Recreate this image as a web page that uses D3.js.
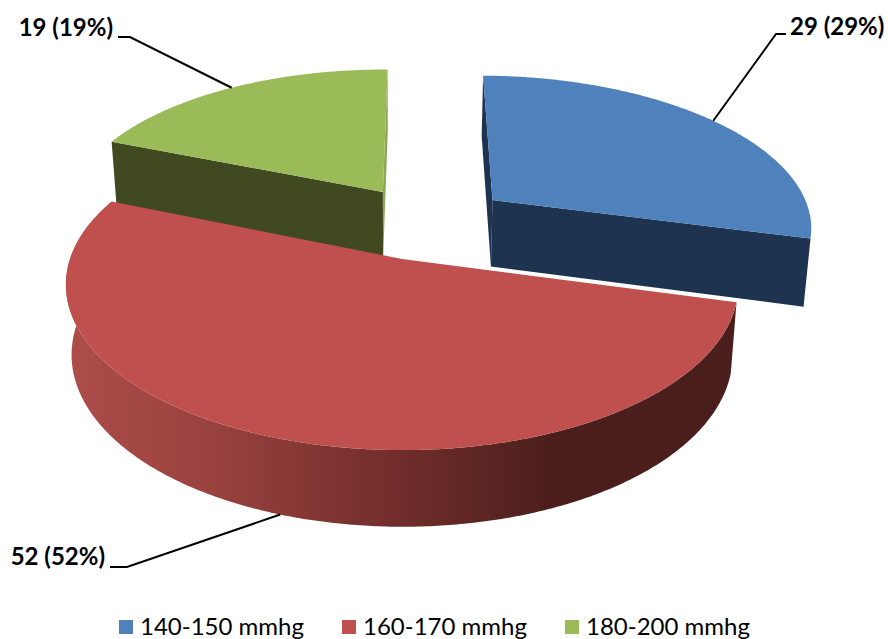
<!DOCTYPE html>
<html>
<head>
<meta charset="utf-8">
<style>
  html, body { margin: 0; padding: 0; background: #fff; }
  svg { display: block; }
  text { font-family: Lato, "Open Sans", sans-serif; fill: #000; }
</style>
<script src="https://cdn.jsdelivr.net/npm/d3@7/dist/d3.min.js"></script>
</head>
<body>
<svg id="chart" width="888" height="639"></svg>
<script>
// Systolic pressure groups and patient counts
const categories = ["140-150 mmhg", "160-170 mmhg", "180-200 mmhg"];
const counts = [29, 52, 19];
const percents = [29, 52, 19];
const faceColors = ["#4f81bd", "#c0504d", "#9bbb59"];
const startWallColors = ["#1d334f", "#7a3230", "#40491f"];
const endWallColors = ["#1d334f", "#7a3230", "#8ea655"];

const svg = d3.select("#chart");

// Ground plane of the pie is a unit disc; u points right, v points away from the viewer.
const camera = { ox: 398, oy: 259, ax: 332, by: 161, k: 0.158, depth: 69, depthK: 0.1, vanishX: 400, squeeze: 0.983 };
const explodeU = 0.26, explodeV = 0.25;
const discCentre = { u: 0.095, v: 0.2375 };

const pieLayout = d3.pie().sort(null).startAngle(0.6 * Math.PI / 180).endAngle(360.6 * Math.PI / 180);
const slices = pieLayout(counts).map((s, i) => {
  const mid = (s.startAngle + s.endAngle) / 2;
  return {
    ...s, index: i, mid,
    cu: discCentre.u + explodeU * Math.sin(mid),
    cv: discCentre.v + explodeV * Math.cos(mid)
  };
});

// Perspective projection of a disc point onto the top face of the pie
function projectTop(u, v) {
  const w = 1 + camera.k * v;
  return [camera.ox + camera.ax * u / w, camera.oy - camera.by * v / w];
}
// Same disc point on the underside of the extrusion
function projectBottom(u, v) {
  const p = projectTop(u, v);
  return [camera.vanishX + (p[0] - camera.vanishX) * camera.squeeze, p[1] + camera.depth / (1 + camera.depthK * v)];
}
const rimPoint = (s, a) => [s.cu + Math.sin(a), s.cv + Math.cos(a)];
const rimAngles = (s, step = 0.01) => {
  const n = Math.ceil((s.endAngle - s.startAngle) / step);
  return d3.range(n + 1).map(i => s.startAngle + (s.endAngle - s.startAngle) * i / n);
};

const polygon = d3.line().curve(d3.curveLinear);
const closed = pts => polygon(pts) + "Z";

// Horizontal shading along the curved outer wall of the largest slice
const defs = svg.append("defs");
const grad = defs.append("linearGradient").attr("id", "rimShade")
  .attr("gradientUnits", "userSpaceOnUse").attr("x1", 65).attr("x2", 738).attr("y1", 0).attr("y2", 0);
[[0, "#ad4d4a"], [0.2, "#9b4340"], [0.35, "#873835"], [0.5, "#702d2b"], [0.62, "#5c2522"], [0.72, "#4c1f1c"], [1, "#4a1e1c"]]
  .forEach(([o, c]) => grad.append("stop").attr("offset", o).attr("stop-color", c));

const pieGroup = svg.append("g").attr("class", "pie");

function drawSlice(s) {
  const g = pieGroup.append("g").attr("class", "slice");
  const apexT = projectTop(s.cu, s.cv), apexB = projectBottom(s.cu, s.cv);
  const angles = rimAngles(s);

  if (s.index === 1) {
    // Front slice: only the curved outer wall is visible
    const topEdge = angles.map(a => projectTop(...rimPoint(s, a)));
    const bottomEdge = angles.map(a => projectBottom(...rimPoint(s, a))).reverse();
    g.append("path").attr("d", closed(topEdge.concat(bottomEdge))).attr("fill", "url(#rimShade)");
  } else {
    // Back slices: the radial walls exposed by the explosion
    const wall = (r, fill) => g.append("path")
      .attr("d", closed([apexT, projectTop(...r), projectBottom(...r), apexB]))
      .attr("fill", fill);
    wall(rimPoint(s, s.endAngle), endWallColors[s.index]);
    wall(rimPoint(s, s.startAngle), startWallColors[s.index]);
  }

  const face = [apexT].concat(angles.map(a => projectTop(...rimPoint(s, a))));
  g.append("path").attr("d", closed(face)).attr("fill", faceColors[s.index]);
}

// Back slices first, front slice last
[2, 0, 1].forEach(i => drawSlice(slices[i]));

// Leader lines and value labels
const labelLayout = [
  { i: 0, elbow: [776, 34], end: [786, 34], tx: 790, ty: 29, anchor: "start", onBottom: false },
  { i: 1, elbow: [127, 567], end: [110, 567], tx: 105, ty: 559, anchor: "end", onBottom: true },
  { i: 2, elbow: [130, 37], end: [118, 37], tx: 113, ty: 30, anchor: "end", onBottom: false }
];
labelLayout.forEach(d => {
  const s = slices[d.i];
  const r = rimPoint(s, s.mid);
  const start = d.onBottom ? projectBottom(...r) : projectTop(...r);
  svg.append("path").attr("d", d3.line()([start, d.elbow, d.end]))
    .attr("fill", "none").attr("stroke", "#000").attr("stroke-width", 2);
  svg.append("text").attr("x", d.tx).attr("y", d.ty)
    .attr("text-anchor", d.anchor).attr("dominant-baseline", "middle")
    .attr("font-size", 24).attr("font-weight", 700)
    .text(`${counts[d.i]} (${percents[d.i]}%)`);
});

// Legend across the bottom
const legendX = d3.scalePoint().domain(categories).range([119, 565]);
const legendColor = d3.scaleOrdinal().domain(categories).range(faceColors);
const legend = svg.append("g").attr("class", "legend");
categories.forEach(c => {
  legend.append("rect").attr("x", legendX(c)).attr("y", 620).attr("width", 14).attr("height", 14).attr("fill", legendColor(c));
  legend.append("text").attr("x", legendX(c) + 21).attr("y", 635).attr("font-size", 24).text(c);
});
</script>
</body>
</html>
